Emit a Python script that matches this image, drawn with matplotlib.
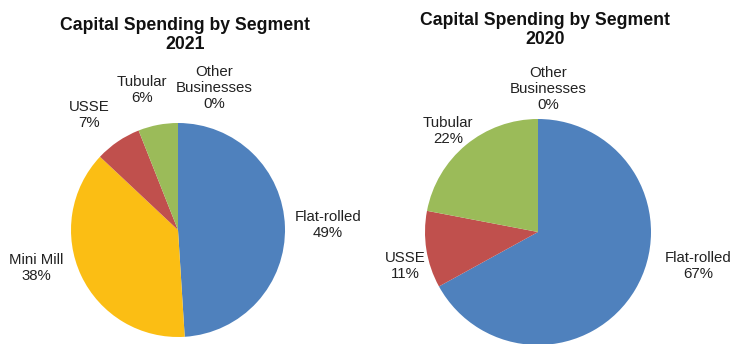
import matplotlib
matplotlib.use("Agg")
import matplotlib.pyplot as plt

plt.rcParams['font.family'] = ['Liberation Sans', 'DejaVu Sans']

# segment shares, clockwise from 12 o'clock
segments_2021 = ['Flat-rolled', 'Mini Mill', 'USSE', 'Tubular', 'Other\nBusinesses']
share_2021 = [49, 38, 7, 6, 0]

segments_2020 = ['Flat-rolled', 'USSE', 'Tubular', 'Other\nBusinesses']
share_2020 = [67, 11, 22, 0]

seg_colors = {
    'Flat-rolled': '#4F81BD',
    'Mini Mill': '#FBBE14',
    'USSE': '#C0504D',
    'Tubular': '#9BBB59',
    'Other\nBusinesses': '#8064A2',
}

W, H = 737, 344
fig = plt.figure(figsize=(W / 100, H / 100), dpi=100)
fig.patch.set_facecolor('white')


def px_axes(cx, cy, r):
    # square axes around a pie centre given in pixels (origin top-left)
    return fig.add_axes([(cx - r) / W, (H - cy - r) / H, 2 * r / W, 2 * r / H])


def draw_pie(ax, names, vals):
    ax.pie(vals, colors=[seg_colors[n] for n in names], startangle=90,
           counterclock=False, radius=1.0, wedgeprops=dict(linewidth=0))
    ax.set_xlim(-1, 1)
    ax.set_ylim(-1, 1)
    ax.set_aspect('equal')
    ax.axis('off')


def label(x, y, text):
    fig.text(x / W, 1 - y / H, text, ha='center', va='center',
             fontsize=10.8, color='#222222', linespacing=1.15)


def title(x, y, text):
    fig.text(x / W, 1 - y / H, text, ha='center', va='center', fontsize=12.7,
             fontweight='bold', color='#111111', linespacing=1.12)


# 2021
ax1 = px_axes(178, 230, 107)
draw_pie(ax1, segments_2021, share_2021)
title(185, 35, 'Capital Spending by Segment\n2021')
pos_2021 = [(328, 225), (36, 268), (89, 115), (142, 90), (214, 88)]
for name, val, (x, y) in zip(segments_2021, share_2021, pos_2021):
    label(x, y, f'{name}\n{val}%')

# 2020
ax2 = px_axes(538, 232, 113)
draw_pie(ax2, segments_2020, share_2020)
title(545, 30, 'Capital Spending by Segment\n2020')
pos_2020 = [(698, 266), (405, 266), (448, 131), (548, 89)]
for name, val, (x, y) in zip(segments_2020, share_2020, pos_2020):
    label(x, y, f'{name}\n{val}%')

fig.savefig('out.png', dpi=100, facecolor='white')
